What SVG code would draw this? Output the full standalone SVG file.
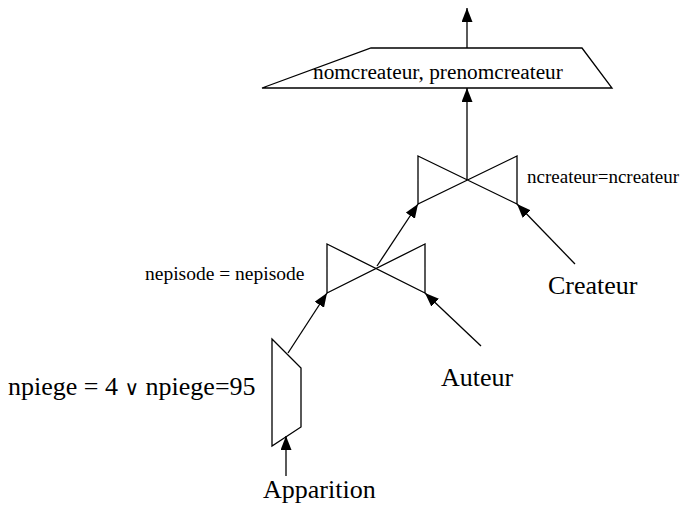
<svg xmlns="http://www.w3.org/2000/svg" width="683" height="511" viewBox="0 0 683 511">
<style>
.s{fill:none;stroke:#000;stroke-width:1.3}
.f{fill:#fff;stroke:#000;stroke-width:1.3}
.c{stroke:#000;stroke-width:1.3;fill:none;marker-end:url(#ah)}
text{font-family:"Liberation Serif","Times New Roman",serif;fill:#000}
</style>
<defs>
<marker id="ah" markerUnits="userSpaceOnUse" markerWidth="14" markerHeight="11" viewBox="0 0 14 11" refX="14" refY="5.5" orient="auto">
<path d="M0,0 L14,5.5 L0,11 z" fill="#000"/>
</marker>
</defs>
<g id="projection">
<polygon class="f" points="262,88 371,48 582,48 612,88"/>
<text x="313" y="79" font-size="21.3">nomcreateur, prenomcreateur</text>
</g>
<g id="join-top">
<path class="s" d="M418,156 L517,204 L517,156 L418,204 Z"/>
<text x="527" y="183" font-size="19">ncreateur=ncreateur</text>
</g>
<g id="join-bottom">
<path class="s" d="M327,244 L425,293 L425,244 L327,293 Z"/>
<text x="145" y="280" font-size="19.5">nepisode = nepisode</text>
</g>
<g id="selection">
<polygon class="f" points="272,339 301,368 301,427 272,446"/>
<text x="8" y="395" font-size="26">npiege = 4 <tspan font-family="'DejaVu Serif',serif" font-size="20">∨</tspan> npiege=95</text>
</g>
<g id="createur"><text x="548" y="294" font-size="26">Createur</text></g>
<g id="auteur"><text x="441" y="386" font-size="26">Auteur</text></g>
<g id="apparition"><text x="263" y="498" font-size="26">Apparition</text></g>
<g id="connectors">
<line class="c" x1="467" y1="48" x2="467" y2="8"/>
<line class="c" x1="467" y1="180" x2="467" y2="88"/>
<line class="c" x1="377" y1="266" x2="418" y2="204"/>
<line class="c" x1="575" y1="264" x2="517" y2="204"/>
<line class="c" x1="481" y1="346" x2="425" y2="293"/>
<line class="c" x1="288" y1="353" x2="327" y2="293"/>
<line class="c" x1="286" y1="476" x2="286" y2="436"/>
</g>
</svg>
